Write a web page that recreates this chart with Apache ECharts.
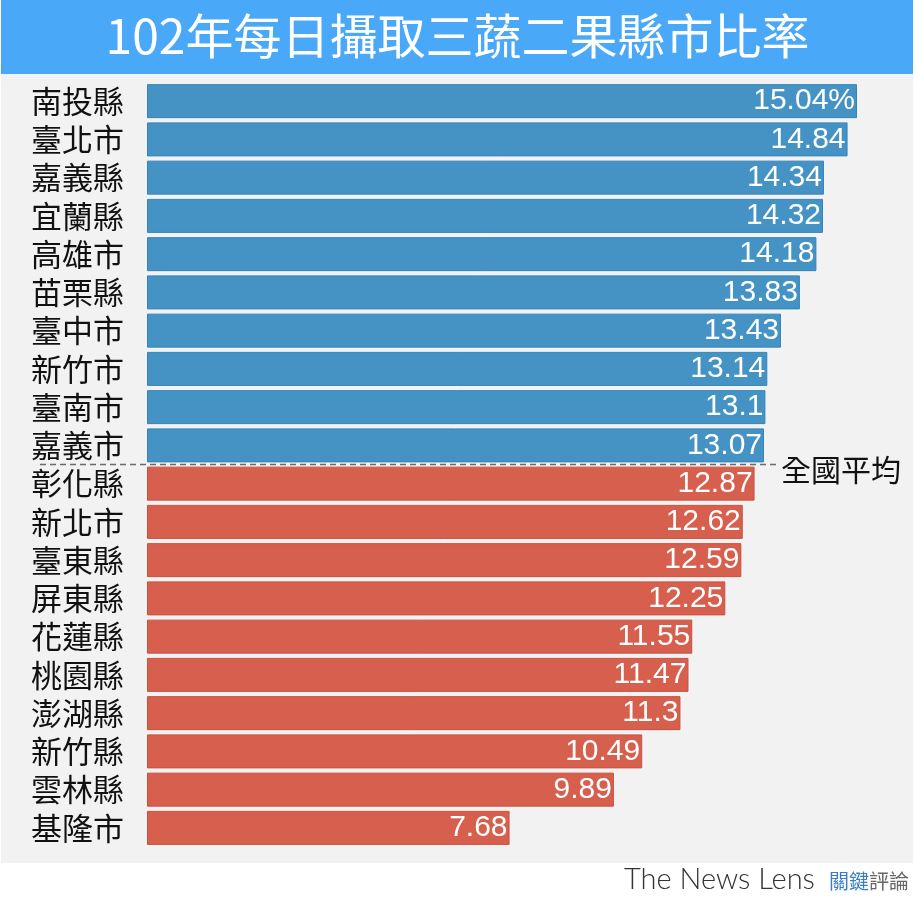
<!DOCTYPE html>
<html><head><meta charset="utf-8">
<script src="https://cdn.jsdelivr.net/npm/echarts@6/dist/echarts.min.js"></script>
<style>html,body{margin:0;padding:0;background:#fff}#c{width:915px;height:898px}</style>
</head><body><div id="c"></div>
<script>
const titleText = '102年每日攝取三蔬二果縣市比率';
const categories = ['南投縣','臺北市','嘉義縣','宜蘭縣','高雄市','苗栗縣','臺中市','新竹市','臺南市','嘉義市',
  '彰化縣','新北市','臺東縣','屏東縣','花蓮縣','桃園縣','澎湖縣','新竹縣','雲林縣','基隆市'];
const values = [15.04,14.84,14.34,14.32,14.18,13.83,13.43,13.14,13.1,13.07,
  12.87,12.62,12.59,12.25,11.55,11.47,11.3,10.49,9.89,7.68];
const aboveAverageCount = 10; // first 10 are above the national average
const averageLabel = '全國平均';

const BLUE = '#4493c4', BLUE_B = '#3484b8';
const RED = '#d75f4e', RED_B = '#c8503f';
const cjk = '"Noto Sans CJK TC", "Noto Sans CJK SC", sans-serif';
const num = '"Liberation Sans", Arial, sans-serif';

const chart = echarts.init(document.getElementById('c'));
const option = {
  backgroundColor: '#ffffff',
  animation: false,
  title: {
    text: titleText, left: 'center', top: 7,
    textStyle: {color: '#fff', fontSize: 48, fontWeight: 'normal', fontFamily: cjk}
  },
  grid: {left: 147, right: 58, top: 82, bottom: 51},
  xAxis: {type: 'value', min: 0, max: values[0], show: false},
  yAxis: {
    type: 'category', data: categories, inverse: true,
    axisLine: {show: false}, axisTick: {show: false}, splitLine: {show: false},
    axisLabel: {interval: 0, color: '#111', fontSize: 31, fontFamily: cjk, margin: 23, align: 'right'}
  },
  series: [{
    type: 'bar', barWidth: 34,
    data: values.map((v, i) => ({
      value: v,
      itemStyle: {
        color: i < aboveAverageCount ? BLUE : RED,
        borderColor: i < aboveAverageCount ? BLUE_B : RED_B,
        borderWidth: 1
      }
    })),
    label: {
      show: true, position: 'insideRight', distance: 2,
      color: '#fff', fontSize: 30, fontFamily: num,
      formatter: p => p.dataIndex === 0 ? p.value.toFixed(2) + '%' : String(p.value)
    },
    z: 2
  }],
  graphic: []
};
chart.setOption(option);

const yA = chart.convertToPixel({yAxisIndex: 0}, categories[aboveAverageCount - 1]);
const yB = chart.convertToPixel({yAxisIndex: 0}, categories[aboveAverageCount]);
const yMid = (yA + yB) / 2;

chart.setOption({
  graphic: [
    {type: 'rect', z: -10, silent: true, shape: {x: 1, y: 0, width: 912, height: 74}, style: {fill: '#49a9f8'}},
    {type: 'rect', z: -10, silent: true, shape: {x: 1, y: 74, width: 912, height: 789}, style: {fill: '#f2f2f2'}},
    {type: 'line', z: 50, silent: true, shape: {x1: 40, y1: yMid, x2: 776, y2: yMid},
      style: {stroke: '#6a6a6a', lineWidth: 1.5, lineDash: [6, 4]}},
    {type: 'text', z: 50, silent: true, x: 781, y: yMid + 5,
      style: {text: averageLabel, fill: '#111', fontSize: 30, fontFamily: cjk, verticalAlign: 'middle', align: 'left'}},
    {type: 'text', z: 50, silent: true, x: 624, y: 880,
      style: {text: 'The News Lens', fill: '#333', fontSize: 29, fontFamily: 'Lato, sans-serif', fontWeight: 300, verticalAlign: 'middle'}},
    {type: 'text', z: 50, silent: true, x: 829, y: 881,
      style: {text: '關鍵', fill: '#3a7dc4', fontSize: 20, fontFamily: cjk, verticalAlign: 'middle'}},
    {type: 'text', z: 50, silent: true, x: 869, y: 881,
      style: {text: '評論', fill: '#666', fontSize: 20, fontFamily: cjk, verticalAlign: 'middle'}}
  ]
});
</script></body></html>
